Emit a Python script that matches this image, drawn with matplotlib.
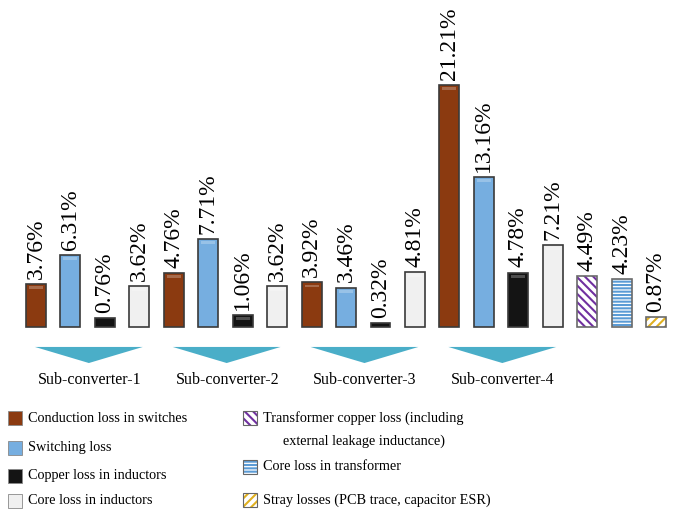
import numpy as np
import matplotlib.pyplot as plt
from matplotlib.patches import Polygon, Rectangle

plt.rcParams['font.family'] = ['Liberation Serif', 'DejaVu Serif']
plt.rcParams['hatch.linewidth'] = 1.5

# loss breakdown (% of total), four sub-converters
groups = ['Sub-converter-1', 'Sub-converter-2', 'Sub-converter-3', 'Sub-converter-4']
cond_loss = [3.76, 4.76, 3.92, 21.21]
sw_loss = [6.31, 7.71, 3.46, 13.16]
cu_loss = [0.76, 1.06, 0.32, 4.78]
core_loss = [3.62, 3.62, 4.81, 7.21]
# transformer + stray
xfmr_names = ['Transformer copper loss', 'Core loss in transformer', 'Stray losses']
xfmr_loss = [4.49, 4.23, 0.87]

fig = plt.figure(figsize=(6.84, 5.12), dpi=100)
ax = fig.add_axes([0, 0, 1, 1])
ax.axis('off')
ax.set_xlim(-36 / 34.45, (684 - 36) / 34.45)
ax.set_ylim(-185 / 11.4, (512 - 185) / 11.4)

w = 0.58
edge = '#3a3a3a'
cols = ['#8b3a10', '#76aee0', '#141414', '#f0f0f0']

def label(x, v):
    ax.text(x, v + 0.45, '%.2f%%' % v, rotation=90, ha='center', va='bottom', fontsize=17)

for g in range(4):
    vals = [cond_loss[g], sw_loss[g], cu_loss[g], core_loss[g]]
    for k in range(4):
        x = g * 4 + k
        ax.bar(x, vals[k], w, color=cols[k], edgecolor=edge, linewidth=1.2)
        # little highlight on top of the bar
        if vals[k] > 1:
            ax.bar(x, 0.25, w * 0.7, bottom=vals[k] - 0.45, color='white', alpha=0.25, linewidth=0)
        label(x, vals[k])
    # arrow under each group
    x0, x1 = g * 4 - 0.03, g * 4 + 3.1
    ax.add_patch(Polygon([[x0, -1.75], [x1, -1.75], [(x0 + x1) / 2, -3.16]],
                         closed=True, color='#4aaec8', linewidth=0))
    ax.text(g * 4 + 1.55, -4.65, groups[g], ha='center', va='center', fontsize=11.5)

hatch_cols = ['#7030a0', '#5b9bd5', '#e0b020']
hatches = ['\\\\\\\\', '-----', '////']
for j in range(3):
    x = 16 + j
    ax.bar(x, xfmr_loss[j], w, color='white', edgecolor=hatch_cols[j], hatch=hatches[j], linewidth=0)
    ax.bar(x, xfmr_loss[j], w, color='none', edgecolor='#6a6a6a', linewidth=1.2)
    label(x, xfmr_loss[j])

# legend, drawn by hand in figure pixels
def fx(px):
    return px / 684.0

def fy(py):
    return 1 - py / 512.0

def swatch(px, py, face, hatch=None, hcol=None):
    if hatch:
        fig.add_artist(Rectangle((fx(px), fy(py + 7)), fx(14), 14 / 512.0, transform=fig.transFigure,
                                 facecolor='white', edgecolor=hcol, hatch=hatch, linewidth=0))
        fig.add_artist(Rectangle((fx(px), fy(py + 7)), fx(14), 14 / 512.0, transform=fig.transFigure,
                                 facecolor='none', edgecolor='#666666', linewidth=0.8))
    else:
        fig.add_artist(Rectangle((fx(px), fy(py + 7)), fx(14), 14 / 512.0, transform=fig.transFigure,
                                 facecolor=face, edgecolor='#888888', linewidth=0.6))

fs = 10.3
left_items = ['Conduction loss in switches', 'Switching loss', 'Copper loss in inductors', 'Core loss in inductors']
left_y = [418, 448, 476, 501]
for k in range(4):
    swatch(8, left_y[k], cols[k])
    fig.text(fx(28), fy(left_y[k]), left_items[k], ha='left', va='center', fontsize=fs)

swatch(243, 418, None, '\\\\\\\\', hatch_cols[0])
fig.text(fx(263), fy(418), 'Transformer copper loss (including', ha='left', va='center', fontsize=fs)
fig.text(fx(283), fy(441), 'external leakage inductance)', ha='left', va='center', fontsize=fs)
swatch(243, 467, None, '-----', hatch_cols[1])
fig.text(fx(263), fy(467), 'Core loss in transformer', ha='left', va='center', fontsize=fs)
swatch(243, 500, None, '////', hatch_cols[2])
fig.text(fx(263), fy(500), 'Stray losses (PCB trace, capacitor ESR)', ha='left', va='center', fontsize=fs)

fig.savefig('out.png', dpi=100)
